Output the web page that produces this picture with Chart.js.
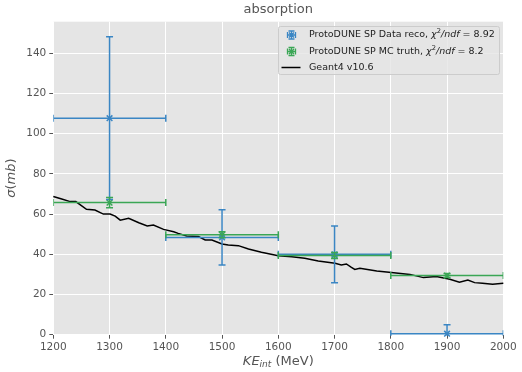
<!DOCTYPE html>
<html>
<head>
<meta charset="utf-8">
<script src="https://cdn.jsdelivr.net/npm/chart.js@4.4.0/dist/chart.umd.min.js"></script>
<style>
  body { margin: 0; background: #fff; }
  #wrap { width: 522px; height: 372px; position: relative; }
</style>
</head>
<body>
<div id="wrap"><canvas id="xsChart" width="522" height="372"></canvas></div>
<script>
// bins in kinetic energy at interaction (MeV)
const binCenters = [1300, 1500, 1700, 1900];
const binHalfWidths = [100, 100, 100, 100];

// measured cross sections (mb)
const dataReco = [107.7, 48.4, 40.0, 0.5];
const dataRecoErr = [40.5, 13.7, 14.1, 4.5];
const mcTruth = [65.7, 49.7, 39.4, 29.4];
const mcTruthErr = [2.6, 1.5, 1.5, 1.0];

// Geant4 prediction
const geantKE = [1200, 1215, 1230, 1240, 1259, 1274, 1289, 1301, 1310, 1319, 1334, 1352, 1367, 1378,
  1396, 1414, 1422, 1437, 1458, 1470, 1482, 1500, 1511, 1529, 1547, 1570, 1600, 1624, 1647, 1671,
  1701, 1712, 1721, 1730, 1736, 1745, 1775, 1801, 1834, 1858, 1881, 1905, 1922, 1937, 1949, 1963, 1981, 2000];
const geantXS = [68.7, 67.5, 66.2, 66.2, 62.4, 62.0, 60.0, 60.0, 59.0, 57.0, 57.9, 55.7, 54.1, 54.6,
  52.4, 51.2, 50.4, 49.1, 48.8, 47.1, 47.1, 45.1, 44.6, 44.3, 42.6, 41.0, 39.3, 38.8, 38.0, 36.7,
  35.5, 34.7, 35.2, 33.5, 32.5, 33.0, 31.7, 31.0, 30.0, 28.4, 28.9, 27.6, 26.1, 27.2, 25.9, 25.6, 25.1, 25.6];

const xTicks = [1200, 1300, 1400, 1500, 1600, 1700, 1800, 1900, 2000];
const yTicks = [0, 20, 40, 60, 80, 100, 120, 140];

const BLUE = '#3a86c4';
const GREEN = '#3aa655';
const FONT = '"DejaVu Sans", sans-serif';

const toPoints = (xs, ys) => xs.map((x, i) => ({ x: x, y: ys[i] }));

// draw a row of differently styled text pieces, starting at x
function drawRuns(ctx, runs, x, y, align) {
  let total = 0;
  runs.forEach(r => { ctx.font = r.font; total += ctx.measureText(r.text).width; });
  let cx = align === 'center' ? x - total / 2 : x;
  ctx.textBaseline = 'middle';
  ctx.textAlign = 'left';
  runs.forEach(r => {
    ctx.font = r.font;
    ctx.fillText(r.text, cx, y + (r.dy || 0));
    cx += ctx.measureText(r.text).width;
  });
}

const errorBars = {
  id: 'errorBars',
  beforeDraw(chart) {
    const { ctx, chartArea: a } = chart;
    ctx.save();
    ctx.fillStyle = '#e5e5e5';
    ctx.fillRect(a.left, a.top, a.right - a.left, a.bottom - a.top);
    ctx.restore();
  },
  afterDatasetsDraw(chart) {
    const { ctx, chartArea: a, scales: { x, y } } = chart;
    const cap = 3.5;
    const series = [
      { vals: dataReco, errs: dataRecoErr, color: BLUE },
      { vals: mcTruth, errs: mcTruthErr, color: GREEN }
    ];
    ctx.save();
    ctx.beginPath();
    ctx.rect(a.left, a.top, a.right - a.left, a.bottom - a.top + 1);
    ctx.clip();
    ctx.lineWidth = 1.5;
    series.forEach(s => {
      ctx.strokeStyle = s.color;
      binCenters.forEach((c, i) => {
        const px = x.getPixelForValue(c);
        const py = y.getPixelForValue(s.vals[i]);
        const x0 = x.getPixelForValue(c - binHalfWidths[i]);
        const x1 = x.getPixelForValue(c + binHalfWidths[i]);
        const y0 = y.getPixelForValue(s.vals[i] - s.errs[i]);
        const y1 = y.getPixelForValue(s.vals[i] + s.errs[i]);
        ctx.beginPath();
        ctx.moveTo(x0, py); ctx.lineTo(x1, py);
        ctx.moveTo(px, y0); ctx.lineTo(px, y1);
        ctx.moveTo(x0, py - cap); ctx.lineTo(x0, py + cap);
        ctx.moveTo(x1, py - cap); ctx.lineTo(x1, py + cap);
        ctx.moveTo(px - cap, y0); ctx.lineTo(px + cap, y0);
        ctx.moveTo(px - cap, y1); ctx.lineTo(px + cap, y1);
        ctx.stroke();
      });
    });
    ctx.restore();
  },
  afterDraw(chart) {
    const { ctx, chartArea: a } = chart;
    const midX = (a.left + a.right) / 2;
    ctx.save();
    ctx.fillStyle = '#555';
    drawRuns(ctx, [{ text: 'absorption', font: '13px ' + FONT }], midX, 10, 'center');
    drawRuns(ctx, [
      { text: 'KE', font: 'italic 13px ' + FONT },
      { text: 'int', font: 'italic 9px ' + FONT, dy: 3 },
      { text: ' (MeV)', font: '13px ' + FONT }
    ], midX, 362, 'center');
    ctx.translate(12, (a.top + a.bottom) / 2);
    ctx.rotate(-Math.PI / 2);
    drawRuns(ctx, [
      { text: 'σ', font: 'italic 13px ' + FONT },
      { text: '(', font: '13px ' + FONT },
      { text: 'mb', font: 'italic 13px ' + FONT },
      { text: ')', font: '13px ' + FONT }
    ], 0, 0, 'center');
    ctx.restore();

    // legend
    ctx.save();
    ctx.fillStyle = 'rgba(229,229,229,0.8)';
    ctx.strokeStyle = '#cccccc';
    ctx.lineWidth = 1;
    ctx.beginPath();
    ctx.roundRect(278.5, 26.5, 221, 48, 2);
    ctx.fill();
    ctx.stroke();
    const rows = [
      { color: BLUE, y: 35, label: 'ProtoDUNE SP Data reco, ', chi: ' = 8.92' },
      { color: GREEN, y: 51.5, label: 'ProtoDUNE SP MC truth, ', chi: ' = 8.2' }
    ];
    rows.forEach(r => {
      const cx = 291.5, cy = r.y, h = 4;
      ctx.strokeStyle = r.color;
      ctx.lineWidth = 1.3;
      ctx.beginPath();
      ctx.moveTo(cx - h, cy); ctx.lineTo(cx + h, cy);
      ctx.moveTo(cx, cy - h); ctx.lineTo(cx, cy + h);
      ctx.moveTo(cx - h, cy - 3); ctx.lineTo(cx - h, cy + 3);
      ctx.moveTo(cx + h, cy - 3); ctx.lineTo(cx + h, cy + 3);
      ctx.moveTo(cx - 3, cy - h); ctx.lineTo(cx + 3, cy - h);
      ctx.moveTo(cx - 3, cy + h); ctx.lineTo(cx + 3, cy + h);
      ctx.moveTo(cx - 2.5, cy - 2.5); ctx.lineTo(cx + 2.5, cy + 2.5);
      ctx.moveTo(cx - 2.5, cy + 2.5); ctx.lineTo(cx + 2.5, cy - 2.5);
      ctx.stroke();
      ctx.fillStyle = '#222';
      drawRuns(ctx, [
        { text: r.label, font: '9.5px ' + FONT },
        { text: 'χ', font: 'italic 9.5px ' + FONT },
        { text: '2', font: '6.7px ' + FONT, dy: -3.5 },
        { text: '/ndf', font: 'italic 9.5px ' + FONT },
        { text: r.chi, font: '9.5px ' + FONT }
      ], 309, cy, 'left');
    });
    ctx.strokeStyle = '#000';
    ctx.lineWidth = 1.5;
    ctx.beginPath();
    ctx.moveTo(281.5, 67.5); ctx.lineTo(300.5, 67.5);
    ctx.stroke();
    ctx.fillStyle = '#222';
    drawRuns(ctx, [{ text: 'Geant4 v10.6', font: '9.5px ' + FONT }], 309, 67.5, 'left');
    ctx.restore();
  }
};

const tickFont = { family: FONT, size: 10.5 };

new Chart(document.getElementById('xsChart'), {
  type: 'scatter',
  data: {
    datasets: [
      {
        label: 'Geant4 v10.6',
        type: 'line',
        data: toPoints(geantKE, geantXS),
        borderColor: '#000',
        borderWidth: 1.5,
        pointRadius: 0,
        fill: false,
        tension: 0,
        order: 3
      },
      {
        label: 'ProtoDUNE SP MC truth',
        data: toPoints(binCenters, mcTruth),
        pointStyle: 'crossRot',
        pointRadius: 4,
        borderColor: GREEN,
        borderWidth: 1.5,
        order: 2
      },
      {
        label: 'ProtoDUNE SP Data reco',
        data: toPoints(binCenters, dataReco),
        pointStyle: 'crossRot',
        pointRadius: 4,
        borderColor: BLUE,
        borderWidth: 1.5,
        order: 1
      }
    ]
  },
  options: {
    responsive: false,
    animation: false,
    clip: false,
    layout: { padding: { top: 21.7, right: 18.7, left: 0, bottom: 0 } },
    plugins: { legend: { display: false }, tooltip: { enabled: false } },
    scales: {
      x: {
        type: 'linear',
        min: 1200,
        max: 2000,
        afterBuildTicks: s => { s.ticks = xTicks.map(v => ({ value: v })); },
        afterFit: s => { s.height = 37.3; },
        ticks: { color: '#555', font: tickFont, padding: 2, maxRotation: 0, callback: v => String(v) },
        grid: { color: '#fff', lineWidth: 1, tickColor: '#555', tickLength: 4 },
        border: { display: false }
      },
      y: {
        min: 0,
        max: 155.7,
        afterBuildTicks: s => { s.ticks = yTicks.map(v => ({ value: v })); },
        afterFit: s => { s.width = 53.3; },
        ticks: { color: '#555', font: tickFont, padding: 3, callback: v => String(v) },
        grid: { color: '#fff', lineWidth: 1, tickColor: '#555', tickLength: 4 },
        border: { display: false }
      }
    }
  },
  plugins: [errorBars]
});
</script>
</body>
</html>
